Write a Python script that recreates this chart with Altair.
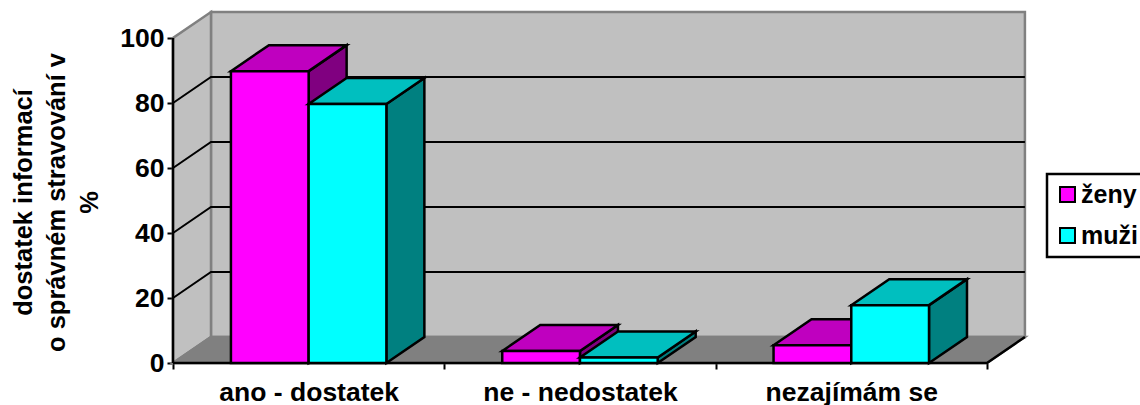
import altair as alt
import pandas as pd

# Survey shares in percent
categories = ["ano - dostatek", "ne - nedostatek", "nezajímám se"]
series = ["ženy", "muži"]
zeny_values = [89.8, 3.7, 5.5]
muzi_values = [79.7, 1.7, 17.8]
y_ticks = [0, 20, 40, 60, 80, 100]
grid_levels = [20, 40, 60, 80]

# Oblique projection: how far the depth axis shifts a point, in scale units
DEPTH_X = 0.14
DEPTH_Y = 8.0
GAP = 0.2135
BAR = 0.2865
N = len(categories)

FONT = "Liberation Sans"
X_DOMAIN = [0, N + 0.144]
Y_DOMAIN = [0, 108]

x_scale = alt.Scale(domain=X_DOMAIN, nice=False, zero=False)
y_scale = alt.Scale(domain=Y_DOMAIN, nice=False)

# Ticks sit on category boundaries, labels at category centres
label_array = "[" + ",".join(f"'{c}'" for c in categories) + "]"
x_axis = alt.Axis(
    title=None,
    grid=False,
    domain=False,
    values=[i / 2 for i in range(2 * N + 1)],
    labelExpr=f"datum.value % 1 == 0 ? '' : {label_array}[floor(datum.value)]",
    tickOpacity={"condition": {"test": "datum.value % 1 == 0", "value": 1}, "value": 0},
    tickColor="black",
    tickWidth=2,
    tickSize=6,
    labelFont=FONT,
    labelFontWeight="bold",
    labelFontSize=26.5,
    labelColor="black",
    labelPadding=10,
    labelLimit=400,
    labelOverlap=False,
    labelFlush=False,
    labelBound=False,
)
y_axis = alt.Axis(
    title=["dostatek informací", "o správném stravování v", "%"],
    titleX=-150,
    titleY=190,
    titleAngle=-90,
    titleAlign="center",
    titleBaseline="middle",
    titleFont=FONT,
    titleFontWeight="bold",
    titleFontSize=25.5,
    titleLineHeight=33,
    titleColor="black",
    grid=False,
    domain=False,
    values=y_ticks,
    tickColor="black",
    tickWidth=2,
    tickSize=6,
    labelFont=FONT,
    labelFontWeight="bold",
    labelFontSize=26.5,
    labelColor="black",
    labelPadding=3,
)
X = alt.X("x:Q", scale=x_scale, axis=x_axis)
Y = alt.Y("y:Q", scale=y_scale, axis=y_axis)


def side_rows(x1, v, key):
    return [
        {"x": x1, "y": 0, "y2": v, "k": key},
        {"x": x1 + DEPTH_X, "y": DEPTH_Y, "y2": v + DEPTH_Y, "k": key},
    ]


def top_rows(x0, x1, v, key):
    return [
        {"x": x0, "y": v, "y2": v, "k": key},
        {"x": x0 + DEPTH_X, "y": v, "y2": v + DEPTH_Y, "k": key},
        {"x": x1, "y": v, "y2": v + DEPTH_Y, "k": key},
        {"x": x1 + DEPTH_X, "y": v + DEPTH_Y, "y2": v + DEPTH_Y, "k": key},
    ]


def area_layer(rows, fill, stroke, width=2.5):
    return (
        alt.Chart(pd.DataFrame(rows))
        .mark_area(fill=fill, stroke=stroke, strokeWidth=width, opacity=1, clip=False)
        .encode(x=X, y=Y, y2="y2:Q", detail="k:N")
    )


def line_layer(rows, color, width=2):
    return (
        alt.Chart(pd.DataFrame(rows))
        .mark_line(color=color, strokeWidth=width, clip=False)
        .encode(x=X, y=Y, detail="k:N", order="o:Q")
    )


def bar_layers(values, index, front_name, top_fill, side_fill):
    sides, tops, fronts = [], [], []
    for c, v in enumerate(values):
        x0 = c + GAP + index * BAR
        x1 = x0 + BAR
        sides += side_rows(x1, v, f"{c}")
        tops += top_rows(x0, x1, v, f"{c}")
        fronts.append({"x": x0, "x2": x1, "y": 0, "y2": v, "s": front_name})
    front = (
        alt.Chart(pd.DataFrame(fronts))
        .mark_rect(stroke="black", strokeWidth=2.5, clip=False)
        .encode(
            x=X,
            x2="x2:Q",
            y=Y,
            y2="y2:Q",
            color=alt.Color(
                "s:N",
                scale=alt.Scale(domain=series, range=["#ff00ff", "#00ffff"]),
                legend=alt.Legend(
                    title=None,
                    orient="none",
                    legendX=874,
                    legendY=162,
                    symbolType="square",
                    symbolSize=225,
                    symbolStrokeColor="black",
                    symbolStrokeWidth=2,
                    labelFont=FONT,
                    labelFontWeight="bold",
                    labelFontSize=25,
                    labelColor="black",
                    labelOffset=1,
                    labelLimit=200,
                    rowPadding=15,
                    padding=8,
                    strokeColor="black",
                    fillColor="white",
                ),
            ),
        )
    )
    return [
        area_layer(sides, side_fill, "black"),
        area_layer(tops, top_fill, "black"),
        front,
    ]


# Walls and floor
wall_back = area_layer(
    [
        {"x": DEPTH_X, "y": DEPTH_Y, "y2": 100 + DEPTH_Y, "k": "b"},
        {"x": N + DEPTH_X, "y": DEPTH_Y, "y2": 100 + DEPTH_Y, "k": "b"},
    ],
    "#c0c0c0",
    "#808080",
)
wall_side = area_layer(side_rows(0, 100, "s"), "#c0c0c0", "#808080")
floor = area_layer(
    [
        {"x": 0, "y": 0, "y2": 0, "k": "f"},
        {"x": DEPTH_X, "y": 0, "y2": DEPTH_Y, "k": "f"},
        {"x": N, "y": 0, "y2": DEPTH_Y, "k": "f"},
        {"x": N + DEPTH_X, "y": DEPTH_Y, "y2": DEPTH_Y, "k": "f"},
    ],
    "#808080",
    "#808080",
)

# Gridlines run along the side wall and across the back wall
grid_rows = []
for level in grid_levels:
    grid_rows += [
        {"x": 0, "y": level, "k": level, "o": 0},
        {"x": DEPTH_X, "y": level + DEPTH_Y, "k": level, "o": 1},
        {"x": N + DEPTH_X, "y": level + DEPTH_Y, "k": level, "o": 2},
    ]
grid = line_layer(grid_rows, "black")

# Axis lines and the front-right floor edge
edges = line_layer(
    [
        {"x": 0, "y": 0, "k": "v", "o": 0},
        {"x": 0, "y": 100, "k": "v", "o": 1},
        {"x": 0, "y": 0, "k": "h", "o": 0},
        {"x": N, "y": 0, "k": "h", "o": 1},
        {"x": N + DEPTH_X, "y": DEPTH_Y, "k": "h", "o": 2},
    ],
    "black",
    2.5,
)

layers = [wall_back, wall_side, floor, grid, edges]
layers += bar_layers(zeny_values, 0, series[0], "#bf00bf", "#800080")
layers += bar_layers(muzi_values, 1, series[1], "#00bfbf", "#008080")

chart = (
    alt.layer(*layers)
    .properties(
        width=853,
        height=351,
        padding={"left": 173, "top": 12, "right": 114, "bottom": 42},
        autosize=alt.AutoSizeParams(type="none"),
        background="white",
    )
    .configure_view(stroke=None)
    .configure_legend(strokeWidth=2.5)
)

chart.save("out.html", embed_options={"renderer": "svg", "actions": False})
